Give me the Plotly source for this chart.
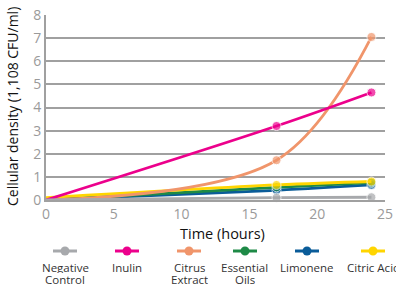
import plotly.graph_objects as go

hours = [0, 17, 24]
negative_control = [0.0, 0.10, 0.12]
inulin = [0.0, 3.2, 4.65]
citrus_extract = [0.0, 1.72, 7.05]
essential_oils = [0.0, 0.55, 0.75]
limonene = [0.0, 0.42, 0.65]
citric_acid = [0.1, 0.65, 0.80]

series_names = ["Negative<br>Control", "Inulin", "Citrus<br>Extract", "Essential<br>Oils", "Limonene", "Citric Acid"]
series_values = [negative_control, inulin, citrus_extract, essential_oils, limonene, citric_acid]
colors = ["#A7A9AC", "#EC008C", "#F0956B", "#1E8A47", "#0A5C99", "#FFD500"]
draw_order = [4, 3, 5, 2, 1, 0]

x_ticks = [0, 5, 10, 15, 20, 25]
y_ticks = [0, 1, 2, 3, 4, 5, 6, 7, 8]

FONT = "Open Sans, Lato, sans-serif"

fig = go.Figure()
for i in draw_order:
    fig.add_trace(go.Scatter(
        x=hours, y=series_values[i], mode="lines+markers",
        line=dict(color=colors[i], width=2.8, shape="spline", smoothing=1.0),
        marker=dict(color=colors[i], size=[0, 9, 9]),
        name=series_names[i], showlegend=False, cliponaxis=False,
    ))

W, H = 396, 284
L, R, T, B = 46, 11, 15, 84
pw, ph = W - L - R, H - T - B

def px(xp):
    return (xp - L) / pw

def py(yp):
    return (H - B - yp) / ph

legend_x = [65, 127, 189, 245, 307, 373]
sym_y = 251
line_y = [266.5, 279]
shapes = []
annotations = []
for i, cx in enumerate(legend_x):
    shapes.append(dict(type="line", xref="paper", yref="paper",
                       x0=px(cx - 12), x1=px(cx + 12), y0=py(sym_y), y1=py(sym_y),
                       line=dict(color=colors[i], width=3)))
    shapes.append(dict(type="circle", xref="paper", yref="paper",
                       x0=px(cx - 4.5), x1=px(cx + 4.5), y0=py(sym_y - 4.5), y1=py(sym_y + 4.5),
                       fillcolor=colors[i], line=dict(color=colors[i], width=0)))
    for k, part in enumerate(series_names[i].split("<br>")):
        annotations.append(dict(text=part, xref="paper", yref="paper",
                                x=px(cx), y=py(line_y[k]), xanchor="center", yanchor="middle",
                                showarrow=False, align="center", height=12, borderpad=0,
                                font=dict(family=FONT, size=11.5, color="#333333")))

annotations.append(dict(text="Time (hours)", xref="paper", yref="paper",
                        x=px(222), y=py(233), xanchor="center", yanchor="middle",
                        showarrow=False, font=dict(family=FONT, size=14.5, color="#111111")))
annotations.append(dict(text="Cellular density (1,108 CFU/ml)", xref="paper", yref="paper",
                        x=px(12), y=py(107), xanchor="center", yanchor="middle", textangle=-90,
                        showarrow=False, font=dict(family=FONT, size=14, color="#111111")))

fig.update_layout(
    width=W, height=H,
    margin=dict(l=L, r=R, t=T, b=B, autoexpand=False),
    paper_bgcolor="white", plot_bgcolor="white",
    font=dict(family=FONT),
    shapes=shapes, annotations=annotations,
    xaxis=dict(range=[0, 25], tickvals=x_ticks, showgrid=False,
               showline=True, linecolor="#A0A0A0", linewidth=2,
               ticks="", automargin=False,
               tickfont=dict(family=FONT, size=14, color="#9A9A9A"),
               zeroline=False, fixedrange=True),
    yaxis=dict(range=[0, 8], tickvals=y_ticks, showgrid=True,
               gridcolor="#A0A0A0", gridwidth=1.5,
               showline=True, linecolor="#A0A0A0", linewidth=2,
               ticks="", automargin=False,
               tickfont=dict(family=FONT, size=14, color="#9A9A9A"),
               zeroline=False, fixedrange=True),
)

fig.write_html("out.html", config={"displayModeBar": False},
               post_script="document.body.style.margin='0';document.body.style.overflow='hidden';")
